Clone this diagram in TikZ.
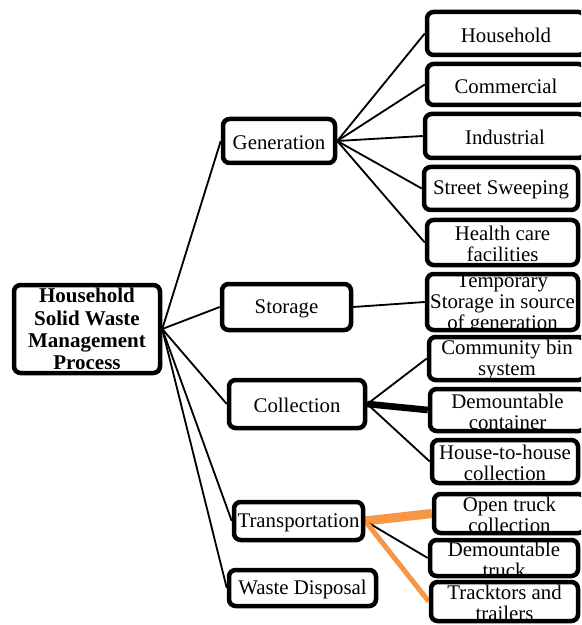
\documentclass[tikz,border=0pt]{standalone}
\usepackage{fontspec}
\setmainfont{Liberation Serif}
\usetikzlibrary{fit,backgrounds}
\definecolor{linkorange}{RGB}{247,150,70}
\tikzset{
  box/.style={draw, fill=white, line width=2.7pt, rounded corners=4pt, inner sep=0pt},
  boxtext/.style={align=center, inner sep=0pt, yshift=-1pt, font=\fontsize{12.5}{12.6}\selectfont},
  roottext/.style={align=center, inner sep=0pt, font=\fontsize{12.6}{13.3}\selectfont\bfseries},
  link/.style={line width=1.1pt},
}

\begin{document}
\begin{tikzpicture}[x=0.6pt, y=-0.6pt]
    \useasboundingbox (0,0) rectangle (581,625);
    \clip (0,0) rectangle (581,625);

    % root of the tree
    \node[box, fit={(14,285) (160,373)}] (root) {};
    \node[roottext] (root-t) at (root) {Household\\Solid Waste\\Management\\Process};

    % stages and their branches (x1/y1/x2/y2 are outer corners)
    \foreach \n/\xa/\ya/\xb/\yb/\txt in {
        gen/221/117/337/165/{Generation},
        sto/220/282/353/332/{Storage},
        col/227/378/367/430/{Collection},
        tra/232/500/365/542/{Transportation},
        wd/227/568/378/608/{Waste Disposal},
        hh/425/10/587/57/{Household},
        com/425/62/587/107/{Commercial},
        ind/423/112/587/160/{Industrial},
        ss/422/165/580/212/{Street Sweeping},
        hc/425/218/580/267/{Health care\\facilities},
        tmp/425/272/580/332/{Temporary\\Storage in source\\of generation},
        cb/427/335/587/382/{Community bin\\system},
        dc/428/387/587/433/{Demountable\\container},
        hth/430/438/580/485/{House-to-house\\collection},
        ot/432/492/587/535/{Open truck\\collection},
        dt/428/538/580/578/{Demountable\\truck},
        tt/429/580/580/623/{Tracktors and\\trailers}} {
        \node[box, fit={(\xa+2,\ya+2) (\xb-2,\yb-2)}] (\n) {};
        \begin{scope}
            \clip (\xa+2,\ya+2) rectangle (\xb-2,\yb-2);
            \node[boxtext] (\n-t) at (\n) {\txt};
        \end{scope}
    }

    % connectors
    \begin{scope}[on background layer]
        \foreach \c in {gen,sto,col,tra,wd}
            \draw[link] (root.east) -- (\c.west);
        \foreach \c in {hh,com,ind,ss,hc}
            \draw[link] (gen.east) -- (\c.west);
        \draw[link] (sto.east) -- (tmp.west);
        \draw[link] (col.east) -- (cb.west);
        \draw[link, line width=4pt] (col.east) -- (dc.west);
        \draw[link] (col.east) -- (hth.west);
        \draw[link, linkorange, line width=5.5pt] (tra.east) -- (ot.west);
        \draw[link] (tra.east) -- (dt.west);
        \draw[link, linkorange, line width=3pt] (tra.east) -- (tt.west);
    \end{scope}
\end{tikzpicture}
\end{document}
